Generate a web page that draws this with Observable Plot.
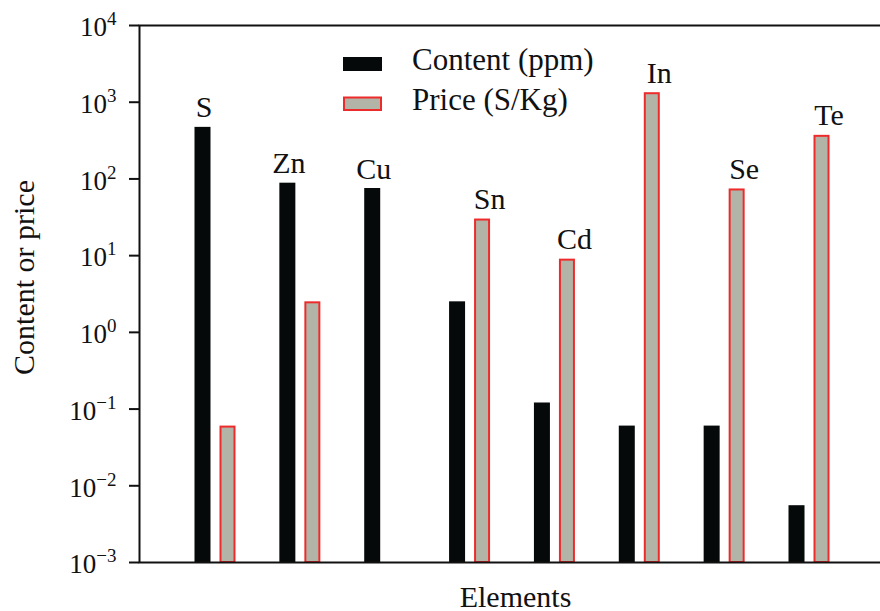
<!DOCTYPE html>
<html>
<head>
<meta charset="utf-8">
<script src="https://cdn.jsdelivr.net/npm/d3@7"></script>
<script src="https://cdn.jsdelivr.net/npm/@observablehq/plot@0.6"></script>
<style>
  html, body { margin: 0; padding: 0; background: white; overflow: hidden; }
  #chart { width: 880px; height: 611px; overflow: hidden; position: relative; }
</style>
</head>
<body>
<div id="chart"></div>
<script>
// Element content in ore (ppm) and market price (S/Kg), log scale
const elements = ["S", "Zn", "Cu", "Sn", "Cd", "In", "Se", "Te"];
const content = [470, 88, 75, 2.5, 0.12, 0.06, 0.06, 0.0055];
const price = [0.06, 2.5, null, 30, 9, 1330, 74, 370];
const yTicks = [1e-3, 1e-2, 1e-1, 1e0, 1e1, 1e2, 1e3, 1e4];
const seriesNames = ["Content (ppm)", "Price (S/Kg)"];

const contentColor = "#050909";
const priceFill = "#b3b4a8";
const priceStroke = "#ee2b2b";
const ink = "#111";
const serif = "'Liberation Serif', 'Times New Roman', serif";

const contentRows = elements.map((e, i) => ({element: e, value: content[i]}));
const priceRows = elements
  .map((e, i) => ({element: e, value: price[i]}))
  .filter(d => d.value != null);
const labelRows = elements.map((e, i) => ({
  element: e,
  value: Math.max(content[i], price[i] ?? 0),
  onPrice: (price[i] ?? 0) > content[i]
}));

const fmtPow = d => {
  const n = Math.round(Math.log10(d));
  return "10^" + String(n).replace("-", "\u2212");
};

const svg = Plot.plot({
  width: 886,
  height: 611,
  marginLeft: 139,
  marginRight: 0,
  marginTop: 25,
  marginBottom: 49,
  style: {fontFamily: serif, color: ink, background: "white"},
  x: {domain: elements, range: [139, 885], paddingInner: 0.8115, paddingOuter: 0.8013, round: false, axis: null},
  y: {type: "log", domain: [1e-3, 1e4], axis: null},
  marks: [
    Plot.barY(contentRows, {x: "element", y1: 1e-3, y2: "value", dx: -12.5, fill: contentColor}),
    Plot.barY(priceRows, {
      x: "element", y1: 1e-3, y2: "value", dx: 12.5,
      fill: priceFill, stroke: priceStroke, strokeWidth: 2,
      insetLeft: 1, insetRight: 1, insetTop: 1
    }),
    Plot.frame({strokeWidth: 2}),
    Plot.axisY({
      ticks: yTicks, tickSize: 10, tickPadding: 13, strokeWidth: 2,
      tickFormat: fmtPow, label: null
    }),
    Plot.text(labelRows.filter(d => !d.onPrice), {
      x: "element", y: "value", text: "element",
      dx: -11.5, dy: -10, lineAnchor: "bottom", fontSize: 30
    }),
    Plot.text(labelRows.filter(d => d.onPrice), {
      x: "element", y: "value", text: "element",
      dx: 19.5, dy: -10, lineAnchor: "bottom", fontSize: 30
    }),
    Plot.text(["Content or price"], {
      frameAnchor: "left", textAnchor: "middle", rotate: -90, dx: -106, dy: -16.5,
      lineAnchor: "bottom", fontSize: 30
    }),
    Plot.text(["Elements"], {
      frameAnchor: "bottom", textAnchor: "middle", dx: 2.5, dy: 44, lineAnchor: "bottom", fontSize: 30
    })
  ]
});
svg.style.maxWidth = "none";

// Power-of-ten tick labels with raised exponents
const ns = "http://www.w3.org/2000/svg";
svg.querySelectorAll('g[aria-label="y-axis tick label"] text').forEach(t => {
  const [base, exp] = t.textContent.split("^");
  t.textContent = base;
  t.style.fontSize = "27px";
  t.setAttribute("y", "0.4em");
  const sup = document.createElementNS(ns, "tspan");
  sup.setAttribute("dy", "-11");
  sup.style.fontSize = "19px";
  sup.textContent = exp;
  t.appendChild(sup);
});

// Legend inside the plot area
const legend = d3.select(svg).append("g")
  .attr("font-family", serif)
  .attr("font-size", 31)
  .attr("text-anchor", "start")
  .attr("fill", ink);
legend.append("rect")
  .attr("x", 343).attr("y", 57).attr("width", 39).attr("height", 14)
  .attr("fill", contentColor);
legend.append("rect")
  .attr("x", 344).attr("y", 97.5).attr("width", 37).attr("height", 12.5)
  .attr("fill", priceFill).attr("stroke", priceStroke).attr("stroke-width", 2);
legend.append("text").attr("x", 412).attr("y", 70).text(seriesNames[0]);
legend.append("text").attr("x", 412).attr("y", 110).text(seriesNames[1]);

document.getElementById("chart").appendChild(svg);
</script>
</body>
</html>
